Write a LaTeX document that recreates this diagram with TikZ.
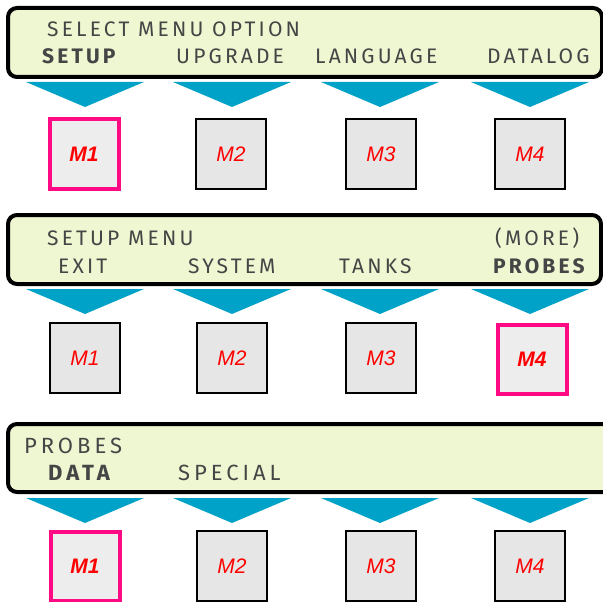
\documentclass[tikz,border=0pt]{standalone}
\usepackage{fontspec}
\setmainfont{Fira Sans}
\newfontfamily\lcdfont[LetterSpace=15]{Fira Sans}
\newfontfamily\lcdwide[LetterSpace=18]{Fira Sans}
\newfontfamily\keyfont{Liberation Sans}
\definecolor{lcdgreen}{HTML}{EEF7D2}
\definecolor{keyblue}{HTML}{00A2C7}
\definecolor{hotpink}{HTML}{FF0A84}
\definecolor{keygray}{HTML}{E6E6E6}
\definecolor{lcdtext}{HTML}{454545}
\pgfdeclarelayer{bg}
\pgfsetlayers{bg,main}
\tikzset{
  lcd/.style={draw=black, line width=4pt, fill=lcdgreen, rounded corners=9pt},
  lcdtxt/.style={anchor=base west, inner sep=0pt, text=lcdtext, font=\lcdfont\fontsize{21}{21}\selectfont},
  lcdsel/.style={lcdtxt, font=\lcdfont\bfseries\fontsize{21}{21}\selectfont},
  lcdbig/.style={lcdtxt, font=\lcdwide\fontsize{22}{22}\selectfont},
  lcdbigsel/.style={lcdtxt, font=\lcdwide\bfseries\fontsize{22}{22}\selectfont},
  key/.style={draw=black, line width=2pt, fill=keygray, minimum width=70pt, minimum height=70pt, inner sep=0pt, text=red, font=\keyfont\itshape\fontsize{21}{21}\selectfont},
  keyon/.style={key, draw=hotpink, line width=4pt, fill=keygray!70, minimum width=69pt, minimum height=69pt, font=\keyfont\bfseries\itshape\fontsize{21}{21}\selectfont},
  wedge/.style={fill=keyblue}
}

\begin{document}
\begin{tikzpicture}[x=1pt,y=-1pt]
        \useasboundingbox (0,0) rectangle (603,602);
        \clip (0,0) rectangle (603,602);
        % displays
        \begin{pgfonlayer}{bg}
                \draw[lcd] (8,8) rectangle (602,77);
                \draw[lcd] (8,215) rectangle (601,284);
                \draw[lcd] (8,424) rectangle (614,492);
                \foreach \top in {82,289,498} {
                        \foreach \cx in {85,232,380,530}
                                \fill[wedge] (\cx-59,\top) -- (\cx+59,\top) -- (\cx,\top+25) -- cycle;
                }
        \end{pgfonlayer}
        % first screen
        \node (s1) [lcdtxt] at (47,37) {SELECT MENU OPTION};
        \node (s1a) [lcdsel] at (42,64) {SETUP};
        \node (s1b) [lcdtxt] at (176,64) {UPGRADE};
        \node (s1c) [lcdtxt] at (315,64) {LANGUAGE};
        \node (s1d) [lcdtxt] at (487,64) {DATALOG};
        \node (a1) [keyon] at (84,154) {M1};
        \node (a2) [key] at (231,154) {M2};
        \node (a3) [key] at (381,154) {M3};
        \node (a4) [key] at (530,154) {M4};
        % second screen
        \node (s2) [lcdtxt] at (47,245) {SETUP MENU};
        \node (s2m) [lcdtxt] at (495,245) {(MORE)};
        \node (s2a) [lcdtxt] at (58,273) {EXIT};
        \node (s2b) [lcdtxt] at (188,273) {SYSTEM};
        \node (s2c) [lcdtxt] at (339,273) {TANKS};
        \node (s2d) [lcdsel] at (493,273) {PROBES};
        \node (b1) [key] at (85,358) {M1};
        \node (b2) [key] at (232,358) {M2};
        \node (b3) [key] at (381,358) {M3};
        \node (b4) [keyon] at (532,359) {M4};
        % third screen
        \node (s3) [lcdbig] at (24,453) {PROBES};
        \node (s3a) [lcdbigsel] at (48,480) {DATA};
        \node (s3b) [lcdbig] at (178,480) {SPECIAL};
        \node (c1) [keyon] at (85,566) {M1};
        \node (c2) [key] at (232,566) {M2};
        \node (c3) [key] at (381,566) {M3};
        \node (c4) [key] at (530,566) {M4};
\end{tikzpicture}
\end{document}
